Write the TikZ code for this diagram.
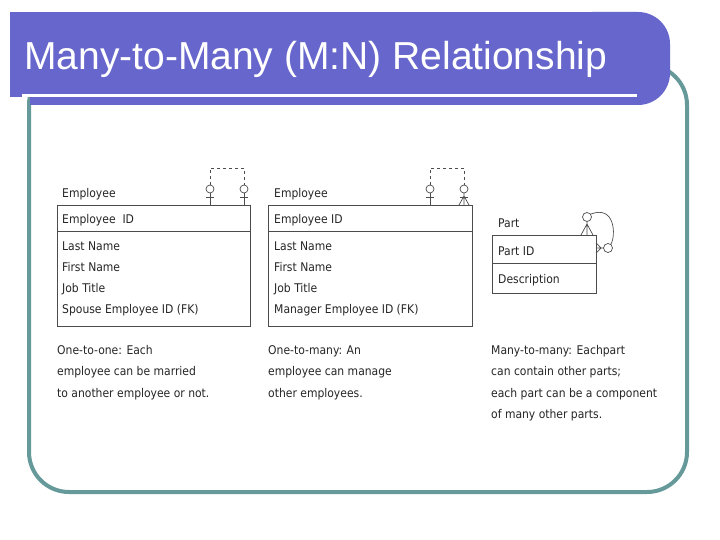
\documentclass[tikz,border=0pt]{standalone}
\usepackage{fontspec}
\setmainfont{Liberation Sans}
\newfontfamily\tf{DejaVu Sans Condensed}
\begin{document}
\begin{tikzpicture}[x=1pt,y=-1pt,
  txt/.style={font=\tf\fontsize{12}{14}\selectfont,anchor=base west,inner sep=0pt,text=black!85},
  captxt/.style={font=\tf\fontsize{12}{21.5}\selectfont,anchor=north west,inner sep=0pt,align=left,text=black!85},
  tbl/.style={draw=black!70,line width=0.9pt},
  sym/.style={draw=black!70,line width=0.7pt}]
\useasboundingbox (0,0) rectangle (720,540);
\fill[white] (0,0) rectangle (720,540);
\draw[color={rgb,255:red,102;green,153;blue,153},line width=4pt,rounded corners=40pt] (29,65) rectangle (687,492);
\fill[color={rgb,255:red,102;green,102;blue,204}] (10,12) rectangle (620,97);
\fill[color={rgb,255:red,102;green,102;blue,204}] (30,97) rectangle (620,105);
\fill[color={rgb,255:red,102;green,102;blue,204},rounded corners=32pt] (560,12) rectangle (670,105);
\draw[white,line width=3pt] (22,96) -- (637,96);
\node[font=\fontsize{39}{44}\selectfont,text=white,anchor=base west,inner sep=0pt] (title) at (24,70) {Many-to-Many (M:N) Relationship};
% table 1
\draw[tbl] (57,205) rectangle (250,326);
\draw[tbl] (57,231) -- (250,231);
\node[txt] (h1) at (62,197) {Employee};
\node[txt] (a1) at (62,223) {Employee\ \ ID};
\node[txt] (l1) at (62,250) {Last Name};
\node[txt] (f1) at (62,271) {First Name};
\node[txt] (j1) at (62,292) {Job Title};
\node[txt] (s1) at (62,313) {Spouse Employee ID (FK)};
% table 2
\draw[tbl] (268,205) rectangle (472,326);
\draw[tbl] (268,231) -- (472,231);
\node[txt] (h2) at (274,197) {Employee};
\node[txt] (a2) at (274,223) {Employee ID};
\node[txt] (l2) at (274,250) {Last Name};
\node[txt] (f2) at (274,271) {First Name};
\node[txt] (j2) at (274,292) {Job Title};
\node[txt] (s2) at (274,313) {Manager Employee ID (FK)};
% part
\draw[tbl] (492,235) rectangle (596,293);
\draw[tbl] (492,263) -- (596,263);
\node[txt] (h3) at (498,227) {Part};
\node[txt] (a3) at (498,255) {Part ID};
\node[txt] (d3) at (498,283) {Description};
% symbols 1
\foreach \x in {210,244}{
 \draw[sym] (\x,189) circle (4);
 \draw[sym] (\x,193) -- (\x,205);
 \draw[sym] (\x-4,197) -- (\x+4,197);}
\draw[sym,dashed] (210,185) -- (210,168) -- (244,168) -- (244,185);
% symbols 2
\draw[sym] (430,189) circle (4);
\draw[sym] (430,193) -- (430,205);
\draw[sym] (426,197) -- (434,197);
\draw[sym] (464,189) circle (4);
\draw[sym] (464,193) -- (464,205) (464,196) -- (459,205) (464,196) -- (469,205);
\draw[sym] (460,197) -- (468,197);
\draw[sym,dashed] (430,185) -- (430,168) -- (464,168) -- (464,185);
% symbols part
\draw[sym] (587,217) circle (4.5);
\draw[sym] (587,221.5) -- (587,235) (587,224) -- (581,235) (587,224) -- (593,235);
\draw[sym] (608,248) circle (4.5);
\draw[sym] (603.5,248) -- (596,248) (601,248) -- (596,243) (601,248) -- (596,253);
\draw[sym] (591,214) .. controls (615,205) and (616,235) .. (611,244);
% captions
\node[captxt] (c1) at (57,345) {One-to-one: Each\\employee can be married\\to another employee or not.};
\node[captxt] (c2) at (268,345) {One-to-many: An\\employee can manage\\other employees.};
\node[captxt] (c3) at (491,345) {Many-to-many: Eachpart\\can contain other parts;\\each part can be a component\\of many other parts.};
\end{tikzpicture}
\end{document}
